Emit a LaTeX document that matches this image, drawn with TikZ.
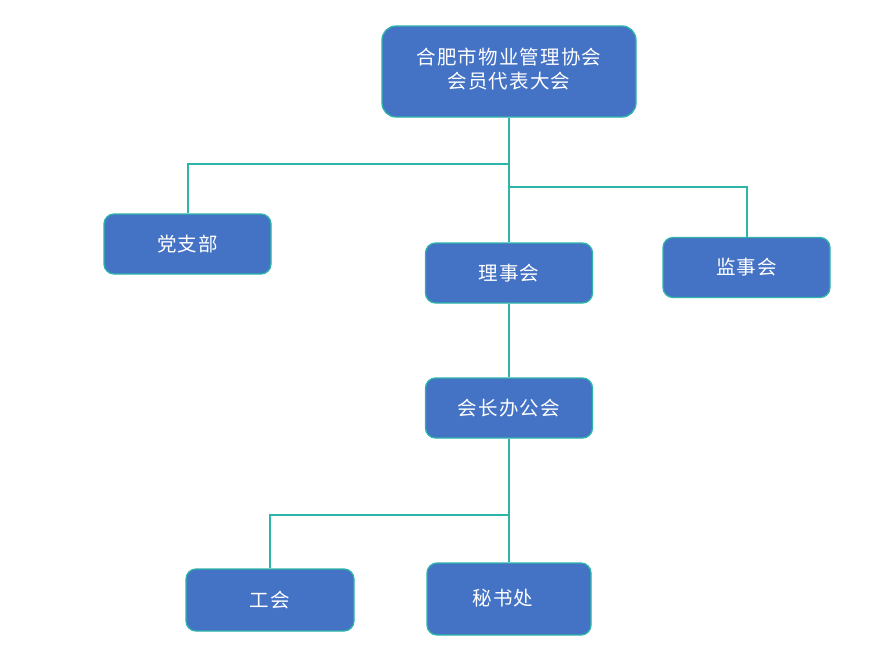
\documentclass[tikz,border=0pt]{standalone}
\usepackage{fontspec}
\setmainfont{Noto Sans CJK SC}[LetterSpace=6]
\usepackage{tikz}
\usetikzlibrary{positioning}
\definecolor{azul}{HTML}{4472C4}
\definecolor{verde}{HTML}{2DB5A9}
\tikzset{caja/.style={draw=verde, line width=1.3pt, fill=azul, rounded corners=10pt, text=white, minimum width=167pt, minimum height=60pt, inner sep=0pt, align=center, font=\fontsize{19.5}{25}\selectfont}}
\tikzset{rama/.style={draw=verde, line width=2pt}}

\begin{document}
\begin{tikzpicture}[x=1pt, y=-1pt]
    \useasboundingbox (0,0) rectangle (892,659);
    \node[caja, minimum width=254pt, minimum height=91pt, rounded corners=14pt](asamblea) at (509,71.5) {\raisebox{3pt}{\begin{tabular}{@{}c@{}}合肥市物业管理协会\\[-1pt]会员代表大会\end{tabular}}};
    \node[caja](partido) at (187.5,244) {党支部};
    \node[caja](consejo) at (509,273) {理事会};
    \node[caja](supervision) at (746.5,267.5) {监事会};
    \node[caja](oficina) at (509,408) {会长办公会};
    \node[caja, minimum width=168pt, minimum height=62pt](sindicato) at (270,600) {工会};
    \node[caja, minimum width=164pt, minimum height=72pt](secretaria) at (509,599) {\raisebox{3pt}{秘书处}\hspace{12pt}};

    \draw[rama] (asamblea.south) -- (consejo.north);
    \draw[rama] (asamblea.south) ++(0,46) -| (partido.north);
    \draw[rama] (asamblea.south) ++(0,69) -| (supervision.north);
    \draw[rama] (consejo.south) -- (oficina.north);
    \draw[rama] (oficina.south) -- (secretaria.north);
    \draw[rama] (oficina.south) ++(0,76) -| (sindicato.north);
\end{tikzpicture}
\end{document}
